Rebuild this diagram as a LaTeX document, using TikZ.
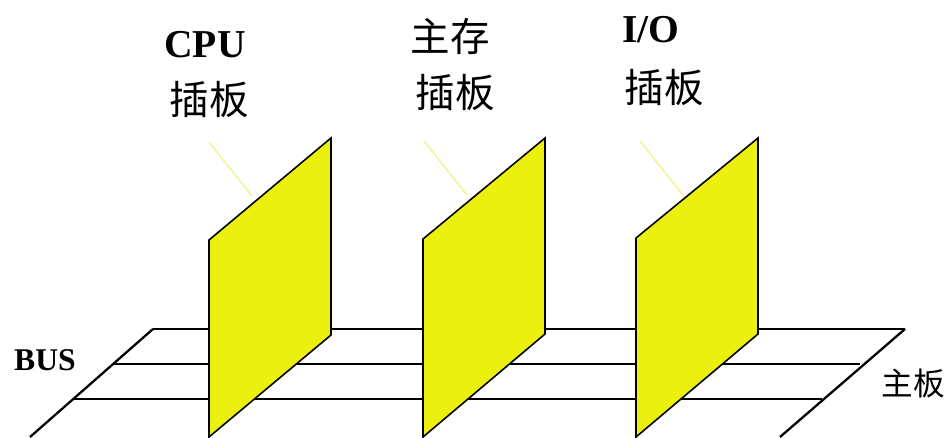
\documentclass[tikz,border=0pt]{standalone}
\usepackage{fontspec}
\setmainfont{Liberation Serif}
\newfontfamily\cjk{Noto Sans CJK SC}
\definecolor{boardyellow}{RGB}{235,240,15}
\definecolor{leadyellow}{RGB}{240,240,130}
\tikzset{
  panel/.style={draw=black,fill=boardyellow,line width=0.9pt,line join=miter},
  leader/.style={draw=leadyellow,line width=0.7pt},
  wire/.style={draw=black,line width=0.7pt},
  edge/.style={draw=black,line width=1.3pt},
  bigtext/.style={inner sep=0pt,font=\fontsize{22.5pt}{24pt}\selectfont\bfseries},
  bigcjk/.style={inner sep=0pt,font=\fontsize{22.5pt}{24pt}\selectfont\cjk},
  smalltext/.style={inner sep=0pt,font=\fontsize{18pt}{20pt}\selectfont\bfseries},
  smallcjk/.style={inner sep=0pt,font=\fontsize{18pt}{20pt}\selectfont\cjk}
}
\begin{document}
\begin{tikzpicture}[x=0.02cm,y=0.02cm]
  \useasboundingbox (0,0) rectangle (950,437);
  % main board
  \coordinate (fl) at (30,0);
  \coordinate (bl) at (153,108);
  \coordinate (br) at (905,108);
  \coordinate (fr) at (780,0);
  \coordinate (l1) at (113,73);
  \coordinate (r1) at (860,73);
  \coordinate (l2) at (74,38);
  \coordinate (r2) at (822,38);
  \draw[wire] (bl) to (br);
  \draw[wire] (l1) to (r1);
  \draw[wire] (l2) to (r2);
  \draw[edge] (fl) to (bl);
  \draw[edge] (fr) to (br);
  % leaders
  \coordinate (cpuleadA) at (209,295);
  \coordinate (cpuleadB) at (252,241);
  \coordinate (memleadA) at (424,296);
  \coordinate (memleadB) at (467,242);
  \coordinate (ioleadA) at (640,296);
  \coordinate (ioleadB) at (683,242);
  \draw[leader] (cpuleadA) to (cpuleadB);
  \draw[leader] (memleadA) to (memleadB);
  \draw[leader] (ioleadA) to (ioleadB);
  % plug-in panels
  \draw[panel] (209,0) -- (209,197) -- (331,299) -- (331,102) -- cycle;
  \draw[panel] (423,0) -- (423,198) -- (545,299) -- (545,103) -- cycle;
  \draw[panel] (636,0) -- (636,199) -- (758,299) -- (758,103) -- cycle;
  % labels
  \node[bigtext] (cpu) at (205,392) {CPU};
  \node[bigcjk] (cpuboard) at (209,337) {插板};
  \node[bigcjk] (mem) at (450,401) {主存};
  \node[bigcjk] (memboard) at (455,344) {插板};
  \node[bigtext] (io) at (651,407) {I/O};
  \node[bigcjk] (ioboard) at (664,349) {插板};
  \node[smalltext] (bus) at (45,77) {BUS};
  \node[smallcjk] (mainboard) at (913,53) {主板};
\end{tikzpicture}
\end{document}
